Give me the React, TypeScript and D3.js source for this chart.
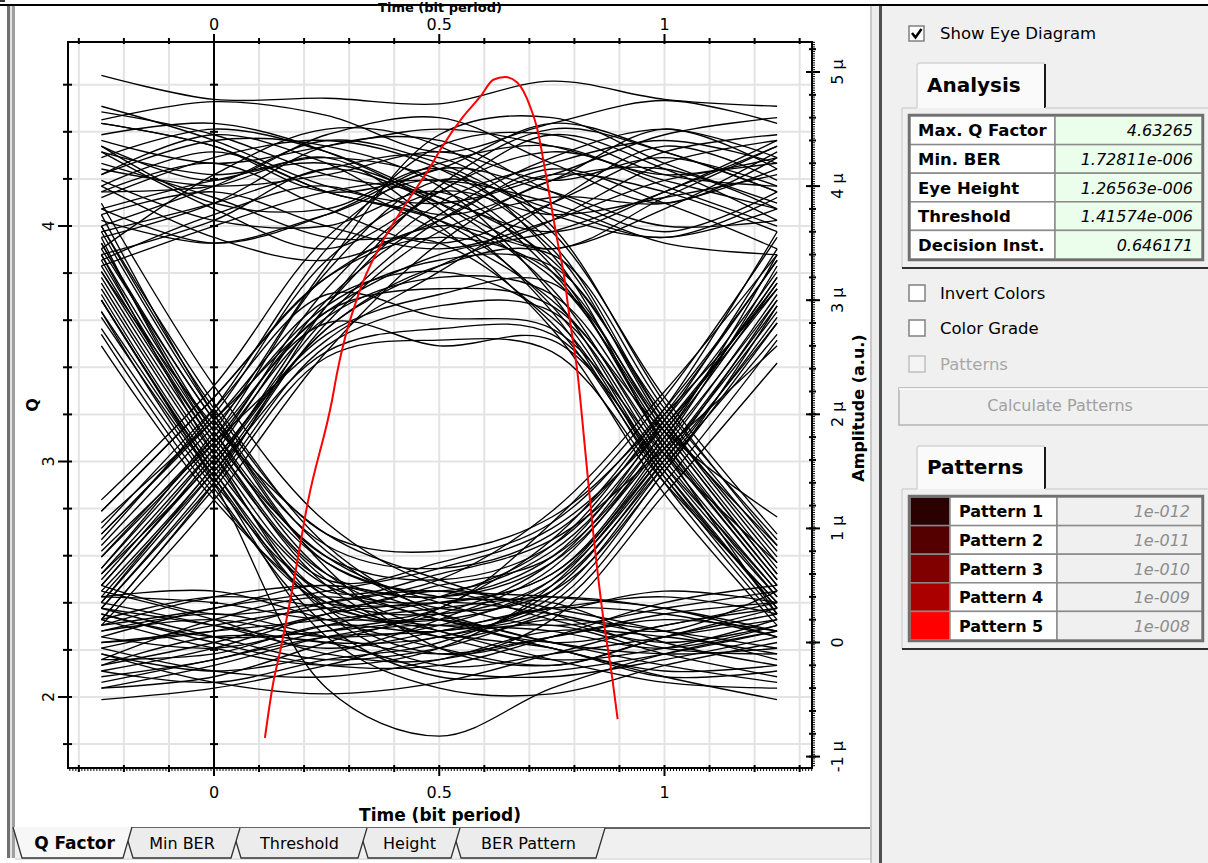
import React from "react";
import * as d3 from "d3";

// ---------- DATA ----------
const timeKnots = [-0.25, 0, 0.25, 0.5, 0.75, 1, 1.25];

// amplitude (µ a.u.) of each trace at the time knots, grouped by bit pattern
const traces111 = [
  [4.97, 4.76, 4.77, 4.72, 4.92, 4.76, 4.7],
  [4.58, 4.74, 4.62, 4.3, 4.55, 4.75, 4.55],
  [4.35, 4.05, 4.45, 4.6, 4.2, 3.85, 4.25],
  [4.1, 4.45, 4.2, 3.75, 4.05, 4.5, 4.15],
  [3.55, 3.85, 4.35, 4.4, 3.95, 3.6, 3.95],
  [4.3, 3.8, 3.45, 3.95, 4.45, 4.15, 3.7],
  [3.4, 3.7, 4.15, 3.85, 3.45, 3.9, 4.35],
  [4.55, 4.35, 3.95, 4.15, 4.55, 4.3, 3.95],
  [3.95, 4.2, 3.8, 3.5, 3.85, 4.3, 4.45],
  [4.0, 3.55, 3.35, 3.7, 4.15, 3.85, 3.45],
  [3.65, 4.0, 4.4, 4.2, 3.75, 3.55, 3.8],
  [4.25, 4.5, 4.3, 3.9, 3.6, 3.95, 4.4],
  [3.8, 3.5, 3.75, 4.2, 4.35, 4.0, 3.65],
  [4.15, 4.0, 4.1, 4.3, 4.05, 4.25, 4.0],
  [4.7, 4.4, 4.0, 3.85, 4.1, 4.45, 4.6],
  [3.3, 3.65, 3.95, 4.05, 3.85, 3.5, 3.4],
  [4.4, 4.2, 4.35, 4.5, 4.35, 4.1, 4.25],
  [3.75, 3.95, 3.65, 3.45, 3.7, 4.05, 4.2],
];
const traces011 = [
  [0.55, 1.7, 3.1, 3.95, 4.3, 4.05, 3.8],
  [0.9, 2.05, 3.45, 4.35, 4.45, 4.1, 4.0],
  [0.3, 1.45, 2.8, 3.6, 3.9, 3.85, 4.15],
  [1.25, 2.25, 3.55, 4.15, 3.95, 3.65, 3.7],
  [0.45, 1.55, 2.95, 3.85, 4.2, 4.4, 4.2],
  [0.65, 1.85, 3.3, 4.45, 4.6, 4.2, 3.85],
  [1.05, 1.95, 2.9, 3.4, 3.6, 3.95, 4.35],
  [0.15, 1.25, 2.55, 3.5, 4.05, 4.15, 3.8],
  [0.75, 1.8, 3.25, 4.05, 3.8, 3.55, 3.9],
  [0.5, 1.65, 3.0, 3.75, 4.25, 4.5, 4.25],
  [1.15, 2.15, 3.2, 3.65, 3.45, 3.8, 4.3],
  [0.35, 1.5, 2.75, 3.3, 3.7, 4.2, 4.4],
  [0.8, 1.75, 2.65, 3.25, 3.85, 4.35, 4.05],
  [0.2, 1.4, 2.95, 4.0, 4.5, 4.3, 3.95],
  [0.95, 2.0, 3.35, 3.95, 3.75, 3.9, 4.1],
  [0.6, 1.6, 2.85, 3.7, 4.1, 3.95, 3.6],
];
const traces110 = [
  [4.3, 4.1, 4.25, 4.05, 3.3, 1.75, 0.5],
  [3.9, 4.25, 4.4, 4.15, 3.5, 1.95, 0.7],
  [4.55, 4.35, 3.95, 3.7, 2.95, 1.5, 0.3],
  [3.6, 3.85, 4.15, 4.25, 3.6, 2.15, 0.95],
  [4.05, 3.7, 3.65, 3.95, 3.25, 1.8, 0.55],
  [4.45, 4.55, 4.3, 3.8, 2.9, 1.4, 0.2],
  [3.8, 4.05, 4.2, 3.85, 3.1, 1.65, 0.45],
  [4.2, 3.9, 3.55, 3.5, 2.8, 1.45, 0.35],
  [3.45, 4.1, 4.5, 4.35, 3.65, 2.1, 0.85],
  [4.0, 4.3, 3.95, 3.7, 3.2, 1.85, 0.6],
  [4.35, 3.85, 3.8, 4.15, 3.4, 1.7, 0.25],
  [3.95, 4.0, 4.25, 3.65, 2.75, 1.3, 0.15],
  [4.65, 4.45, 4.1, 3.9, 3.35, 2.0, 0.8],
  [3.7, 3.5, 3.75, 4.05, 3.45, 1.9, 0.65],
  [4.1, 4.4, 4.35, 4.0, 3.05, 1.55, 0.4],
  [3.35, 3.75, 4.0, 3.6, 3.0, 1.85, 1.1],
];
const traces100 = [
  [3.3, 1.75, 0.5, 0.05, 0.2, 0.1, -0.05],
  [3.65, 2.1, 0.85, 0.25, 0.0, 0.15, 0.35],
  [3.0, 1.5, 0.25, -0.2, -0.1, 0.05, 0.2],
  [3.45, 1.95, 0.7, 0.4, 0.35, 0.0, -0.2],
  [2.75, 1.35, 0.15, -0.3, -0.25, -0.1, 0.1],
  [3.2, 1.7, 0.55, 0.1, -0.05, -0.3, -0.25],
  [3.85, 2.25, 1.05, 0.5, 0.4, 0.3, 0.05],
  [3.1, 1.6, 0.4, 0.15, 0.3, 0.4, 0.25],
  [2.9, 1.45, 0.05, -0.4, -0.45, -0.2, 0.0],
  [3.5, 1.85, 0.6, 0.2, 0.1, -0.05, 0.15],
  [3.0, 1.4, -0.4, -0.82, -0.4, -0.1, 0.1],
  [3.55, 1.8, 0.75, 0.35, 0.15, 0.3, 0.45],
  [2.6, 1.25, 0.35, 0.1, -0.15, -0.35, -0.4],
  [3.75, 2.0, 0.65, -0.05, -0.2, 0.05, 0.3],
  [3.25, 1.9, 0.95, 0.55, 0.25, -0.05, -0.1],
  [3.4, 1.65, 0.3, -0.1, 0.05, 0.25, 0.35],
];
const traces000 = [
  [0.1, 0.25, 0.05, -0.1, 0.05, 0.2, 0.1],
  [-0.3, -0.15, 0.1, 0.2, 0.0, -0.2, -0.35],
  [0.35, 0.15, -0.05, 0.1, 0.3, 0.25, 0.05],
  [-0.05, -0.25, -0.3, -0.15, 0.1, 0.05, -0.1],
  [0.2, 0.4, 0.3, 0.05, -0.15, -0.05, 0.2],
  [-0.5, -0.4, -0.2, 0.05, 0.15, -0.1, -0.3],
  [0.5, 0.25, 0.35, 0.45, 0.2, 0.0, 0.15],
  [0.0, 0.1, 0.2, 0.3, 0.4, 0.3, 0.1],
  [-0.2, 0.05, 0.0, -0.25, -0.3, -0.15, 0.05],
  [0.3, 0.05, -0.15, -0.05, 0.25, 0.45, 0.35],
  [-0.1, -0.35, -0.45, -0.35, -0.1, 0.15, 0.3],
  [0.15, 0.3, 0.5, 0.25, 0.0, -0.1, -0.05],
  [-0.4, -0.2, 0.05, 0.15, -0.05, -0.3, -0.5],
  [0.05, -0.05, 0.15, 0.35, 0.25, 0.1, 0.45],
  [0.4, 0.45, 0.2, -0.05, -0.2, 0.05, 0.25],
  [-0.25, -0.05, 0.25, 0.45, 0.3, 0.1, -0.15],
  [0.25, 0.0, -0.2, -0.2, 0.05, 0.35, 0.5],
  [-0.15, 0.2, 0.4, 0.2, -0.05, -0.25, -0.2],
];
const traces001 = [
  [0.1, 0.2, 0.05, 0.15, 0.55, 1.7, 3.05],
  [-0.2, 0.0, 0.25, 0.4, 0.85, 2.0, 3.35],
  [0.3, 0.15, 0.0, 0.05, 0.4, 1.55, 2.85],
  [-0.1, -0.25, -0.1, 0.2, 0.65, 1.8, 3.15],
  [0.4, 0.35, 0.2, 0.3, 1.05, 2.15, 3.55],
  [0.0, 0.1, 0.35, 0.55, 1.15, 2.2, 3.4],
  [-0.35, -0.15, 0.05, 0.1, 0.3, 1.4, 2.65],
  [0.2, -0.05, -0.2, -0.05, 0.5, 1.65, 2.95],
  [0.05, 0.3, 0.45, 0.65, 1.0, 1.9, 3.1],
  [-0.25, -0.35, -0.15, 0.0, 0.45, 1.6, 3.0],
  [0.25, 0.05, 0.1, 0.25, 0.7, 1.85, 3.2],
  [-0.05, 0.15, 0.3, 0.35, 0.6, 1.75, 3.3],
  [0.45, 0.2, -0.1, -0.15, 0.2, 1.3, 2.45],
  [-0.4, -0.3, 0.0, 0.3, 0.9, 2.05, 3.6],
  [0.15, 0.4, 0.5, 0.4, 0.75, 1.95, 3.45],
  [-0.15, -0.1, 0.15, 0.1, 0.35, 1.5, 2.8],
];
const traces010 = [
  [0.6, 1.7, 2.85, 3.2, 3.05, 1.75, 0.55],
  [0.85, 1.9, 2.95, 3.35, 3.3, 1.95, 0.75],
  [0.4, 1.5, 2.55, 2.75, 2.7, 1.5, 0.3],
  [1.15, 2.15, 3.2, 3.55, 3.25, 1.85, 0.6],
  [0.3, 1.4, 2.6, 2.95, 2.9, 1.6, 0.4],
  [0.75, 1.8, 2.8, 2.6, 2.65, 1.55, 0.45],
  [0.5, 1.6, 2.7, 3.05, 3.15, 1.9, 0.85],
  [0.95, 1.95, 3.0, 3.25, 2.85, 1.45, 0.25],
  [0.2, 1.35, 2.5, 2.65, 2.55, 1.4, 0.35],
  [0.65, 1.75, 2.9, 3.1, 2.95, 1.7, 0.5],
  [1.0, 2.05, 3.05, 2.85, 2.75, 1.65, 0.7],
  [0.35, 1.55, 2.75, 3.3, 3.4, 2.05, 0.9],
];
const traces101 = [
  [3.25, 1.75, 0.6, 0.4, 0.7, 1.75, 3.0],
  [3.5, 1.95, 0.85, 0.65, 0.95, 1.95, 3.25],
  [3.0, 1.5, 0.4, 0.25, 0.55, 1.6, 2.8],
  [3.4, 1.85, 0.75, 0.55, 0.85, 1.9, 3.15],
  [2.85, 1.45, 0.3, 0.2, 0.5, 1.55, 2.7],
  [3.15, 1.65, 0.55, 0.7, 1.05, 2.05, 3.35],
  [3.65, 2.05, 0.95, 0.8, 1.1, 2.0, 3.1],
  [3.05, 1.55, 0.5, 0.35, 0.6, 1.65, 2.9],
  [3.35, 1.8, 0.7, 0.45, 0.8, 1.85, 3.2],
  [2.9, 1.4, 0.45, 0.6, 0.9, 1.7, 2.6],
  [3.6, 2.0, 0.8, 0.3, 0.45, 1.5, 2.95],
  [2.7, 1.3, 0.35, 0.5, 0.75, 1.8, 3.4],
];

// Q factor vs decision instant (red curve)
const qTime = [0.113, 0.131, 0.147, 0.176, 0.209, 0.262, 0.273, 0.324, 0.376, 0.424, 0.48, 0.502, 0.553, 0.591, 0.62, 0.646, 0.673, 0.702, 0.718, 0.736, 0.762, 0.776, 0.791, 0.807, 0.824, 0.842, 0.864, 0.884, 0.896];
const qValue = [1.826, 2.055, 2.196, 2.481, 2.834, 3.26, 3.374, 3.728, 3.94, 4.089, 4.251, 4.323, 4.464, 4.549, 4.621, 4.633, 4.609, 4.506, 4.409, 4.226, 3.94, 3.8, 3.587, 3.374, 3.047, 2.694, 2.336, 2.081, 1.906];

const xLabelTicks = [0, 0.5, 1];
const xLabelText = ["0", "0.5", "1"];
const qLabelTicks = [2, 3, 4];
const ampLabelTicks = [-1, 0, 1, 2, 3, 4, 5];
const ampLabelText = ["-1 µ", "0", "1 µ", "2 µ", "3 µ", "4 µ", "5 µ"];

const analysisLabels = ["Max. Q Factor", "Min. BER", "Eye Height", "Threshold", "Decision Inst."];
const analysisValues = ["4.63265", "1.72811e-006", "1.26563e-006", "1.41574e-006", "0.646171"];
const patternNames = ["Pattern 1", "Pattern 2", "Pattern 3", "Pattern 4", "Pattern 5"];
const patternBER = ["1e-012", "1e-011", "1e-010", "1e-009", "1e-008"];
const patternColors = ["#2a0000", "#550000", "#800000", "#aa0000", "#ff0000"];
const tabNames = ["Q Factor", "Min BER", "Threshold", "Height", "BER Pattern"];

// ---------- LAYOUT ----------
const W = 1208, H = 863;
const PL = 68, PR = 812, PT = 42, PB = 768;
const FONT = "'DejaVu Sans', Verdana, sans-serif";

export default function App() {
  const x = d3.scaleLinear().domain([0, 1]).range([214, 664.5]);
  const yQ = d3.scaleLinear().domain([2, 4]).range([697, 226]);
  const yA = d3.scaleLinear().domain([0, 5]).range([642.5, 72]);

  const tMin = x.invert(PL), tMax = x.invert(PR);
  const qMin = yQ.invert(PB), qMax = yQ.invert(PT);
  const aMin = yA.invert(PB), aMax = yA.invert(PT);

  const gridT = d3.range(Math.ceil(tMin * 10), Math.floor(tMax * 10) + 1).map((i) => i / 10);
  const gridQ = d3.range(Math.ceil(qMin * 5), Math.floor(qMax * 5) + 1).map((i) => i / 5);
  const combT = d3.range(Math.ceil(tMin * 150), Math.floor(tMax * 150) + 1).map((i) => i / 150);
  const combA = d3.range(Math.ceil(aMin * 50), Math.floor(aMax * 50) + 1).map((i) => i / 50);
  const medA = d3.range(Math.ceil(aMin * 5), Math.floor(aMax * 5) + 1).map((i) => i / 5);

  const allTraces = [
    ...traces111, ...traces011, ...traces110, ...traces100,
    ...traces000, ...traces001, ...traces010, ...traces101,
  ];
  const traceLine = d3
    .line<number>()
    .x((_, i) => x(timeKnots[i]))
    .y((d) => yA(d))
    .curve(d3.curveCatmullRom.alpha(0.5));

  const qPts = qTime.map((t, i) => [t, qValue[i]] as [number, number]);
  const qLine = d3
    .line<[number, number]>()
    .x((d) => x(d[0]))
    .y((d) => yQ(d[1]))
    .curve(d3.curveMonotoneX);

  const tabSpans = [[13, 132], [124, 240], [232, 367], [359, 460], [452, 605]];
  const tabTop = 828, tabBot = 858;

  const aTop = 116, aRow = 28.6;
  const pTop = 497, pRow = 28.6;

  return (
    <div style={{ position: "absolute", left: 0, top: 0 }}>
      <svg width={W} height={H} style={{ display: "block", fontFamily: FONT }}>
        <rect x={0} y={0} width={W} height={H} fill="#ffffff" />
        {/* right panel */}
        <rect x={882} y={6} width={W - 882} height={H - 6} fill="#f0f0f0" />
        {/* window chrome */}
        <rect x={0} y={4} width={W} height={2} fill="#000" />
        <rect x={0} y={0} width={5} height={2} fill="#333" />
        <rect x={7} y={6} width={3} height={852} fill="#707070" />
        <rect x={10} y={6} width={2} height={852} fill="#e2e2e2" />
        <rect x={12} y={6} width={3} height={852} fill="#a0a0a0" />
        <rect x={870} y={6} width={2} height={H - 6} fill="#c8c8c8" />
        <rect x={872} y={6} width={7} height={H - 6} fill="#ececec" />
        <rect x={879} y={6} width={3} height={H - 6} fill="#505050" />

        {/* grid */}
        {gridT.map((t) => (
          <line key={"gt" + t} x1={x(t)} x2={x(t)} y1={PT} y2={PB} stroke="#e3e3e3" strokeWidth={2} />
        ))}
        {gridQ.map((q) => (
          <line key={"gq" + q} x1={PL} x2={PR} y1={yQ(q)} y2={yQ(q)} stroke="#e3e3e3" strokeWidth={2} />
        ))}

        {/* eye traces */}
        <g fill="none" stroke="#000" strokeWidth={1.35}>
          {allTraces.map((tr, i) => (
            <path key={"tr" + i} d={traceLine(tr) || ""} />
          ))}
        </g>

        {/* Q curve */}
        <path d={qLine(qPts) || ""} fill="none" stroke="#ff0000" strokeWidth={2} />

        {/* frame */}
        <rect x={PL} y={PT} width={PR - PL} height={PB - PT} fill="none" stroke="#000" strokeWidth={2} />
        <line x1={x(0)} x2={x(0)} y1={PT} y2={PB} stroke="#000" strokeWidth={2} />

        {/* top axis ticks */}
        {gridT.map((t) => (
          <line key={"tt" + t} x1={x(t)} x2={x(t)} y1={xLabelTicks.includes(t) ? 34 : 38} y2={PT + 2} stroke="#000" strokeWidth={2} />
        ))}
        {xLabelTicks.map((t, i) => (
          <text key={"tl" + t} x={x(t)} y={30} textAnchor="middle" fontSize={16} fill="#000">
            {xLabelText[i]}
          </text>
        ))}
        <text x={440} y={12} textAnchor="middle" fontSize={13} fontWeight="bold" fill="#000">
          Time (bit period)
        </text>

        {/* bottom axis ticks */}
        {combT.map((t, i) => (
          <line key={"bc" + i} x1={x(t)} x2={x(t)} y1={PB} y2={PB + 3} stroke="#000" strokeWidth={1} />
        ))}
        {gridT.map((t) => (
          <line key={"bt" + t} x1={x(t)} x2={x(t)} y1={PB - 3} y2={xLabelTicks.includes(t) ? PB + 8 : PB + 4} stroke="#000" strokeWidth={2} />
        ))}
        {xLabelTicks.map((t, i) => (
          <text key={"bl" + t} x={x(t)} y={798} textAnchor="middle" fontSize={16} fill="#000">
            {xLabelText[i]}
          </text>
        ))}
        <text x={440} y={821} textAnchor="middle" fontSize={17} fontWeight="bold" fill="#000">
          Time (bit period)
        </text>

        {/* left Q axis */}
        {gridQ.map((q) => (
          <g key={"qt" + q}>
            <line x1={qLabelTicks.includes(q) ? 58 : 63} x2={PL + 4} y1={yQ(q)} y2={yQ(q)} stroke="#000" strokeWidth={2} />
            <line x1={x(0) - 4} x2={x(0) + 4} y1={yQ(q)} y2={yQ(q)} stroke="#000" strokeWidth={2} />
          </g>
        ))}
        {qLabelTicks.map((q) => (
          <text key={"ql" + q} transform={`translate(48,${yQ(q)}) rotate(-90)`} textAnchor="middle" dominantBaseline="central" fontSize={16} fill="#000">
            {String(q)}
          </text>
        ))}
        <text transform="translate(32,405) rotate(-90)" textAnchor="middle" dominantBaseline="central" fontSize={16} fontWeight="bold" fill="#000">
          Q
        </text>

        {/* right amplitude axis */}
        {combA.map((a, i) => (
          <line key={"ac" + i} x1={PR} x2={PR + 3} y1={yA(a)} y2={yA(a)} stroke="#000" strokeWidth={1} />
        ))}
        {medA.map((a, i) => (
          <line key={"am" + i} x1={PR - 3} x2={PR + 4} y1={yA(a)} y2={yA(a)} stroke="#000" strokeWidth={2} />
        ))}
        {ampLabelTicks.map((a) => (
          <line key={"aM" + a} x1={PR - 6} x2={PR + 8} y1={yA(a)} y2={yA(a)} stroke="#000" strokeWidth={2} />
        ))}
        {ampLabelTicks.map((a, i) => (
          <text key={"al" + a} transform={`translate(837,${yA(a)}) rotate(-90)`} textAnchor="middle" dominantBaseline="central" fontSize={16} fill="#000">
            {ampLabelText[i]}
          </text>
        ))}
        <text transform="translate(858,408) rotate(-90)" textAnchor="middle" dominantBaseline="central" fontSize={16} fontWeight="bold" fill="#000">
          Amplitude (a.u.)
        </text>

        {/* bottom tabs */}
        <rect x={15} y={tabTop} width={855} height={tabBot - tabTop} fill="#f0f0f0" />
        <line x1={128} x2={870} y1={tabTop} y2={tabTop} stroke="#333" strokeWidth={1.5} />
        <line x1={15} x2={870} y1={tabBot + 1} y2={tabBot + 1} stroke="#d8d8d8" strokeWidth={1.5} />
        {tabSpans.map((s, i) => i).reverse().filter((i) => i !== 0).map((i) => {
          const [a, b] = tabSpans[i];
          return (
            <path key={"tab" + i} d={`M${a},${tabTop} L${a + 9},${tabBot} L${b - 9},${tabBot} L${b},${tabTop}`} fill="#ececec" stroke="#333" strokeWidth={1.3} />
          );
        })}
        <path d={`M${tabSpans[0][0]},${tabTop - 1} L${tabSpans[0][0] + 9},${tabBot} L${tabSpans[0][1] - 9},${tabBot} L${tabSpans[0][1]},${tabTop - 1}`} fill="#f7f7f7" stroke="#333" strokeWidth={1.3} />
        {tabNames.map((n, i) => (
          <text key={"tn" + i} x={(tabSpans[i][0] + tabSpans[i][1]) / 2 + (i === 0 ? 2 : 0)} y={849} textAnchor="middle" fontSize={i === 0 ? 17 : 16} fontWeight={i === 0 ? "bold" : "normal"} fill="#000">
            {n}
          </text>
        ))}

        {/* right panel: Show Eye Diagram */}
        <rect x={909} y={26} width={15} height={15} fill="#fff" stroke="#808080" strokeWidth={1.5} />
        <path d="M912,33 L915.5,37.5 L921.5,29" fill="none" stroke="#000" strokeWidth={2.5} />
        <text x={940} y={39} fontSize={16.5} fill="#000">Show Eye Diagram</text>

        {/* Analysis tab */}
        <path d="M917,108 L917,66 Q917,63 920,63 L1043,63 Q1045,63 1045,66 L1045,108" fill="#fafafa" stroke="#d4d4d4" strokeWidth={1.5} />
        <line x1={1045} x2={1045} y1={64} y2={108} stroke="#1a1a1a" strokeWidth={2} />
        <text x={927} y={92} fontSize={20} fontWeight="bold" fill="#000">Analysis</text>
        <line x1={902} x2={917} y1={108} y2={108} stroke="#d4d4d4" strokeWidth={1.5} />
        <line x1={1045} x2={W} y1={108} y2={108} stroke="#d4d4d4" strokeWidth={1.5} />
        <line x1={902} x2={902} y1={108} y2={268} stroke="#d4d4d4" strokeWidth={1.5} />
        <line x1={902} x2={W} y1={268} y2={268} stroke="#303030" strokeWidth={2} />

        {analysisLabels.map((l, i) => (
          <g key={"an" + i}>
            <rect x={910} y={aTop + i * aRow} width={145} height={aRow} fill="#fff" stroke="#8a8a8a" strokeWidth={1.5} />
            <rect x={1055} y={aTop + i * aRow} width={147} height={aRow} fill="#ebfdeb" stroke="#8a8a8a" strokeWidth={1.5} />
            <text x={918} y={aTop + i * aRow + aRow / 2 + 6} fontSize={16.5} fontWeight="bold" fill="#000">{l}</text>
            <text x={1193} y={aTop + i * aRow + aRow / 2 + 6} textAnchor="end" fontSize={16} fontStyle="italic" fill="#000">{analysisValues[i]}</text>
          </g>
        ))}
        <rect x={909} y={aTop - 1} width={294} height={aRow * 5 + 2} fill="none" stroke="#707070" strokeWidth={2.5} />

        {/* checkboxes */}
        {[["Invert Colors", 293, false], ["Color Grade", 328, false], ["Patterns", 364, true]].map(([label, cy, dis], i) => (
          <g key={"cb" + i}>
            <rect x={909} y={(cy as number) - 8} width={16} height={16} fill={dis ? "#f4f4f4" : "#fff"} stroke={dis ? "#c0c0c0" : "#808080"} strokeWidth={1.5} />
            <text x={940} y={(cy as number) + 6} fontSize={16.5} fill={dis ? "#a8a8a8" : "#000"}>{label as string}</text>
          </g>
        ))}

        {/* button */}
        <rect x={899} y={388} width={W - 899 + 2} height={37} fill="#f0f0f0" stroke="#b4b4b4" strokeWidth={1.5} />
        <line x1={899} x2={W} y1={389} y2={389} stroke="#ffffff" strokeWidth={1.5} />
        <text x={1060} y={411} textAnchor="middle" fontSize={16} fill="#a0a0a0">Calculate Patterns</text>

        {/* Patterns tab */}
        <path d="M917,489 L917,449 Q917,446 920,446 L1043,446 Q1045,446 1045,449 L1045,489" fill="#fafafa" stroke="#d4d4d4" strokeWidth={1.5} />
        <line x1={1045} x2={1045} y1={447} y2={489} stroke="#1a1a1a" strokeWidth={2} />
        <text x={927} y={474} fontSize={20} fontWeight="bold" fill="#000">Patterns</text>
        <line x1={902} x2={917} y1={489} y2={489} stroke="#d4d4d4" strokeWidth={1.5} />
        <line x1={1045} x2={W} y1={489} y2={489} stroke="#d4d4d4" strokeWidth={1.5} />
        <line x1={902} x2={902} y1={489} y2={649} stroke="#d4d4d4" strokeWidth={1.5} />
        <line x1={902} x2={W} y1={649} y2={649} stroke="#303030" strokeWidth={2} />

        {patternNames.map((n, i) => (
          <g key={"pt" + i}>
            <rect x={910} y={pTop + i * pRow} width={40} height={pRow} fill={patternColors[i]} stroke="#8a8a8a" strokeWidth={1.5} />
            <rect x={950} y={pTop + i * pRow} width={107} height={pRow} fill="#fff" stroke="#8a8a8a" strokeWidth={1.5} />
            <rect x={1057} y={pTop + i * pRow} width={145} height={pRow} fill="#f0f0f0" stroke="#8a8a8a" strokeWidth={1.5} />
            <text x={959} y={pTop + i * pRow + pRow / 2 + 6} fontSize={16} fontWeight="bold" fill="#000">{n}</text>
            <text x={1190} y={pTop + i * pRow + pRow / 2 + 6} textAnchor="end" fontSize={16} fontStyle="italic" fill="#8c8c8c">{patternBER[i]}</text>
          </g>
        ))}
        <rect x={909} y={pTop - 1} width={294} height={pRow * 5 + 2} fill="none" stroke="#707070" strokeWidth={2.5} />
      </svg>
    </div>
  );
}
